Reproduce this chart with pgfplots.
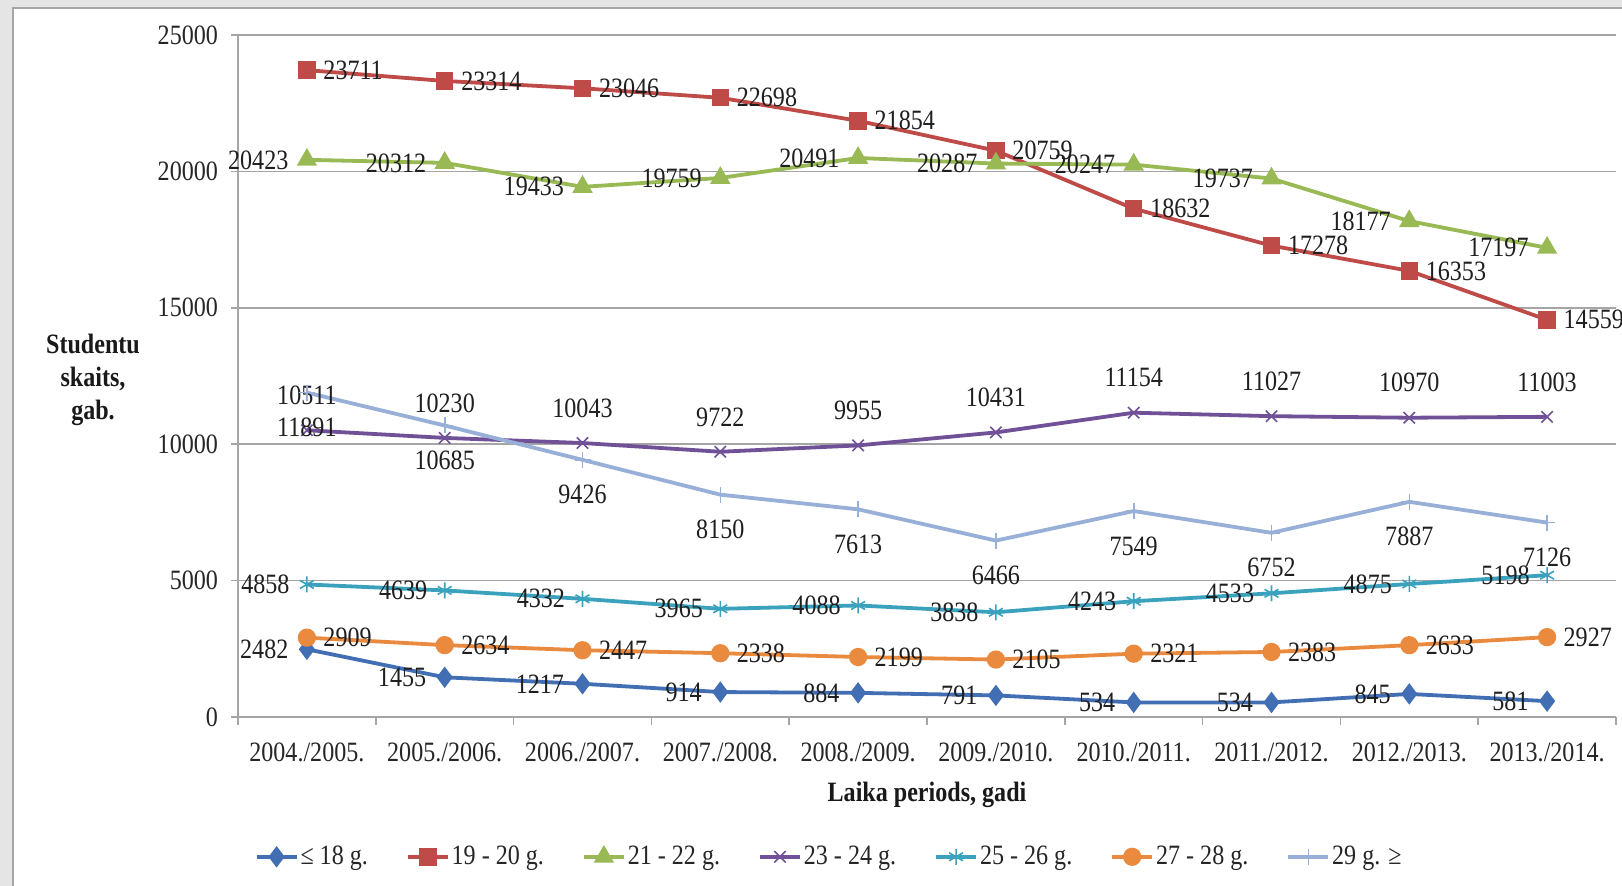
\documentclass[border=0pt]{standalone}
\usepackage{pgfplots}
\pgfplotsset{compat=1.18}
\usepackage{fontspec}
\setmainfont{Liberation Serif}[FakeStretch=0.86]
\definecolor{cBlue}{RGB}{66,110,180}
\definecolor{cRed}{RGB}{190,75,72}
\definecolor{cGreen}{RGB}{152,185,84}
\definecolor{cPurple}{RGB}{112,80,150}
\definecolor{cTeal}{RGB}{58,162,188}
\definecolor{cOrange}{RGB}{234,138,62}
\definecolor{cLight}{RGB}{152,176,216}
\definecolor{gridc}{RGB}{165,165,165}
\newcommand\lf{\fontsize{14}{16}\selectfont}
\begin{document}
\begin{tikzpicture}
\useasboundingbox (0,0) rectangle (811pt,443pt);
\fill[black!10] (0,0) rectangle (811pt,443pt);
\fill[white] (6.5pt,0) rectangle (811pt,439pt);
\draw[black!35, line width=0.6pt] (6.5pt,0) -- (6.5pt,439pt) -- (811pt,439pt);
\clip (0,0) rectangle (811pt,443pt);
\begin{axis}[
  at={(119pt,84.5pt)}, anchor=south west,
  scale only axis, width=689pt, height=341pt,
  xmin=-0.5, xmax=9.5, ymin=0, ymax=25000,
  clip=false,
  axis lines=left, axis line style={-, draw=gridc, line width=0.8pt},
  xtick={0,...,9},
  xticklabels={2004./2005.,2005./2006.,2006./2007.,2007./2008.,2008./2009.,2009./2010.,2010./2011.,2011./2012.,2012./2013.,2013./2014.},
  major x tick style={draw=none},
  minor xtick={-0.5,0.5,...,9.5},
  minor tick length=4pt,
  major tick length=3.5pt,
  tick align=outside,
  tick style={draw=gridc, line width=0.8pt},
  ytick={0,5000,...,25000},
  scaled y ticks=false,
  ymajorgrids, grid style={draw=gridc, line width=0.8pt},
  /pgf/number format/.cd, 1000 sep={}, assume math mode=true, /pgfplots/.cd,
  tick label style={font=\lf, text=black!85},
  yticklabel style={xshift=-3pt},
  xticklabel style={yshift=-6pt},
  xlabel={Laika periods, gadi},
  every axis x label/.style={at={(rel axis cs:0.5,0)}, anchor=center, yshift=-39pt, font=\lf\bfseries, text=black!90},
  ylabel={Studentu\\skaits,\\gab.},
  every axis y label/.style={at={(rel axis cs:0,0.5)}, anchor=center, xshift=-72.5pt, yshift=-2pt, align=center, font=\fontsize{14}{16.6}\selectfont\bfseries, text=black!90},
  legend columns=7,
  legend style={at={(0.429,-0.205)}, anchor=center, draw=none, fill=none, font=\lf, text=black!85,
    /tikz/every even column/.append style={column sep=18pt}, inner xsep=0pt, nodes={inner xsep=1pt}},
  legend cell align=left,
  legend image code/.code={\draw[mark repeat=2,mark phase=2] plot coordinates {(0pt,0pt) (10pt,0pt) (20pt,0pt)};},
  nodes near coords={\pgfmathprintnumber[fixed,precision=0,1000 sep={}]{\pgfplotspointmeta}},
  every node near coord/.append style={font=\lf, text=black!88},
  every axis plot/.append style={line width=1.9pt},
]
\addplot[color=cBlue, mark=diamond*, mark size=3.8pt, mark options={solid},
  every node near coord/.append style={anchor=east, xshift=-5pt}]
  coordinates {(0,2482)(1,1455)(2,1217)(3,914)(4,884)(5,791)(6,534)(7,534)(8,845)(9,581)};
\addlegendentry{≤ 18 g.}
\addplot[color=cRed, mark=square*, mark size=3.4pt, mark options={solid},
  every node near coord/.append style={anchor=west, xshift=4pt}]
  coordinates {(0,23711)(1,23314)(2,23046)(3,22698)(4,21854)(5,20759)(6,18632)(7,17278)(8,16353)(9,14559)};
\addlegendentry{19 - 20 g.}
\addplot[color=cGreen, mark=triangle*, mark size=4pt, mark options={solid},
  every node near coord/.append style={anchor=east, xshift=-5pt}]
  coordinates {(0,20423)(1,20312)(2,19433)(3,19759)(4,20491)(5,20287)(6,20247)(7,19737)(8,18177)(9,17197)};
\addlegendentry{21 - 22 g.}
\addplot[color=cPurple, mark=x, mark size=4pt, mark options={solid, line width=0.8pt},
  every node near coord/.append style={anchor=south, yshift=9pt}]
  coordinates {(0,10511)(1,10230)(2,10043)(3,9722)(4,9955)(5,10431)(6,11154)(7,11027)(8,10970)(9,11003)};
\addlegendentry{23 - 24 g.}
\addplot[color=cTeal, mark=asterisk, mark size=4pt, mark options={solid, line width=0.8pt},
  every node near coord/.append style={anchor=east, xshift=-5pt}]
  coordinates {(0,4858)(1,4639)(2,4332)(3,3965)(4,4088)(5,3838)(6,4243)(7,4533)(8,4875)(9,5198)};
\addlegendentry{25 - 26 g.}
\addplot[color=cOrange, mark=*, mark size=3.6pt, mark options={solid},
  every node near coord/.append style={anchor=west, xshift=4pt}]
  coordinates {(0,2909)(1,2634)(2,2447)(3,2338)(4,2199)(5,2105)(6,2321)(7,2383)(8,2633)(9,2927)};
\addlegendentry{27 - 28 g.}
\addplot[color=cLight, mark=+, mark size=4pt, mark options={solid, line width=0.8pt},
  every node near coord/.append style={anchor=north, yshift=-9pt}]
  coordinates {(0,11891)(1,10685)(2,9426)(3,8150)(4,7613)(5,6466)(6,7549)(7,6752)(8,7887)(9,7126)};
\addlegendentry{29 g. ≥}
\end{axis}
\end{tikzpicture}
\end{document}
